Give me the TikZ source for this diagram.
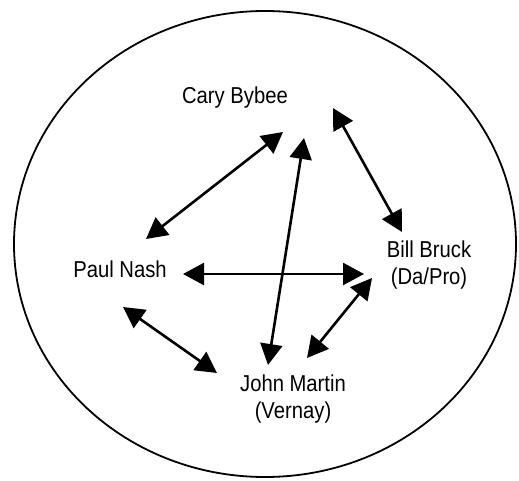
\documentclass[tikz,border=0pt]{standalone}
\usepackage{fontspec}
\setmainfont[FakeStretch=0.88]{Liberation Sans}
\usepackage{tikz}
\usetikzlibrary{arrows.meta}

\tikzset{
  person/.style={align=center,inner sep=0pt,font=\fontsize{23}{27}\selectfont},
  link/.style={{Triangle[length=21pt,width=22pt]}-{Triangle[length=21pt,width=22pt]},line width=2.6pt}
}

\begin{document}
\begin{tikzpicture}[x=1pt,y=-1pt]
  \useasboundingbox (0,0) rectangle (519,481);
  \draw[line width=1.8pt] (265,244) ellipse (251 and 233);
  % the people
  \node[person] (cary) at (235,98) {Cary Bybee};
  \node[person] (paul) at (120,269) {Paul Nash};
  \node[person] (bill) at (429,265) {Bill Bruck\\(Da/Pro)};
  \node[person] (john) at (293,399) {John Martin\\(Vernay)};
  % who talks to whom
  \draw[link] ([shift={(48,34)}]cary.center) -- ([shift={(26,-30)}]paul.center);
  \draw[link] ([shift={(69,40)}]cary.center) -- ([shift={(-25,-34)}]john.center);
  \draw[link] ([shift={(98,10)}]cary.center) -- ([shift={(-27,-33)}]bill.center);
  \draw[link] ([shift={(63,5)}]paul.center) -- ([shift={(-65,9)}]bill.center);
  \draw[link] ([shift={(-57,13)}]bill.center) -- ([shift={(14,-41)}]john.center);
  \draw[link] ([shift={(3,38)}]paul.center) -- ([shift={(-76,-26)}]john.center);
\end{tikzpicture}
\end{document}
